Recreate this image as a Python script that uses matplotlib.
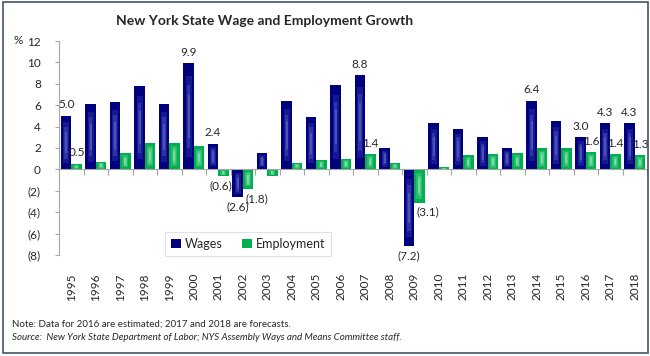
import numpy as np
import matplotlib
matplotlib.use("Agg")
import matplotlib.pyplot as plt
from matplotlib.patches import Rectangle, Patch
from matplotlib.ticker import FixedLocator

# ---- data -------------------------------------------------------------
years = list(range(1995, 2019))
wages = [5.0, 6.1, 6.3, 7.8, 6.1, 9.9, 2.4, -2.6, 1.5, 6.4, 4.9, 7.9,
         8.8, 2.0, -7.2, 4.3, 3.8, 3.0, 2.0, 6.4, 4.5, 3.0, 4.3, 4.3]
employment = [0.5, 0.7, 1.5, 2.5, 2.5, 2.2, -0.6, -1.8, -0.6, 0.6, 0.9, 1.0,
              1.4, 0.6, -3.1, 0.2, 1.3, 1.4, 1.5, 2.0, 2.0, 1.6, 1.4, 1.3]
wage_label_years = [1995, 2000, 2001, 2002, 2007, 2009, 2014, 2016, 2017, 2018]
emp_label_years = [1995, 2001, 2002, 2007, 2009, 2016, 2017, 2018]
y_ticks = [-8, -6, -4, -2, 0, 2, 4, 6, 8, 10, 12]

title = "New York State Wage and Employment Growth"
note = "Note: Data for 2016 are estimated; 2017 and 2018 are forecasts."
source = ("Source:  New York State Department of Labor; "
          "NYS Assembly Ways and Means Committee staff.")

# ---- style --------------------------------------------------------------
plt.rcParams["font.family"] = ["Lato", "DejaVu Sans"]
TEXT = "#262626"
GRID = "#a6a6a6"
WAGE_C = "#00007f"
WAGE_HI = "#8a9ae6"
EMP_C = "#00b050"
EMP_HI = "#e6fff0"
BAR_W = 0.43
OFFSET = 0.21


def fmt_value(v):
    return f"({abs(v):.1f})" if v < 0 else f"{v:.1f}"


def fmt_tick(t):
    return f"({abs(t):d})" if t < 0 else f"{t:d}"


fig = plt.figure(figsize=(6.5, 3.56), dpi=100)
ax = fig.add_axes([59 / 650, 1 - 255 / 356, (647 - 59) / 650, (255 - 41) / 356])

x = np.arange(len(years))


def shaded_bars(xpos, values, base, hi):
    """Solid bars with a soft, lighter streak down the middle of each."""
    vals = np.asarray(values, dtype=float)
    ax.bar(xpos, vals, width=BAR_W, color=base, zorder=2, linewidth=0)
    # layered translucent inner strips build up a glow toward the centre
    for wf, lo, hi_f, a in [(0.55, 0.12, 0.88, 0.16),
                            (0.35, 0.20, 0.80, 0.22),
                            (0.18, 0.30, 0.70, 0.30)]:
        ax.bar(xpos, vals * (hi_f - lo), bottom=vals * lo,
               width=BAR_W * wf, color=hi, alpha=a, zorder=2.2,
               linewidth=0)


shaded_bars(x - OFFSET, wages, WAGE_C, WAGE_HI)
shaded_bars(x + OFFSET, employment, EMP_C, EMP_HI)

ax.set_xlim(-0.5, len(years) - 0.5)
ax.set_ylim(-8, 12)

# value labels (a few nudged sideways to clear neighbouring bars)
label_shift = {("emp", 2001): -0.12, ("emp", 2002): 0.37,
               ("emp", 2009): 0.33}


def put_labels(xpos, values, which, key):
    for xi, yr, val in zip(xpos, years, values):
        if yr not in which:
            continue
        dx = label_shift.get((key, yr), 0.0)
        if val >= 0:
            ax.annotate(fmt_value(val), (xi + dx, val), xytext=(0, 4),
                        textcoords="offset points", ha="center", va="bottom",
                        fontsize=8.5, color=TEXT, zorder=4)
        else:
            ax.annotate(fmt_value(val), (xi + dx, val), xytext=(0, -3),
                        textcoords="offset points", ha="center", va="top",
                        fontsize=8.5, color=TEXT, zorder=4)


put_labels(x - OFFSET, wages, wage_label_years, "wage")
put_labels(x + OFFSET, employment, emp_label_years, "emp")

# axes styling: y axis on the left, category axis along zero
for s in ("top", "right"):
    ax.spines[s].set_visible(False)
ax.spines["left"].set_color(GRID)
ax.spines["left"].set_linewidth(0.8)
ax.spines["bottom"].set_position(("data", 0))
ax.spines["bottom"].set_color(GRID)
ax.spines["bottom"].set_linewidth(0.8)
ax.spines["bottom"].set_zorder(3)

ax.set_yticks(y_ticks)
ax.set_yticklabels([fmt_tick(t) for t in y_ticks])
ax.tick_params(axis="y", length=3, width=0.8, color=GRID, pad=10,
               labelsize=8.5, labelcolor=TEXT)

ax.xaxis.set_major_locator(FixedLocator(np.arange(-0.5, len(years), 1.0)))
ax.tick_params(axis="x", length=4, width=0.8, color=GRID, labelbottom=False)

sec = ax.secondary_xaxis("bottom")
sec.spines["bottom"].set_visible(False)
sec.set_xticks(x)
sec.set_xticklabels([str(y) for y in years], rotation=90)
sec.tick_params(length=0, pad=13, labelsize=8.5, labelcolor=TEXT)

# legend
handles = [Patch(facecolor=WAGE_C, edgecolor="none", label="Wages"),
           Patch(facecolor=EMP_C, edgecolor="none", label="Employment")]
leg = fig.legend(handles=handles, loc="center",
                 bbox_to_anchor=(248 / 650, 1 - 244 / 356), ncol=2,
                 frameon=True, fontsize=9, handlelength=0.8,
                 handleheight=0.8, handletextpad=0.3, columnspacing=1.6,
                 borderpad=0.45, fancybox=False)
leg.get_frame().set_edgecolor("#d5dce8")
leg.get_frame().set_linewidth(0.8)
for t in leg.get_texts():
    t.set_color(TEXT)

# titles and notes
fig.text(265 / 650, 1 - 21 / 356, title, ha="center", va="center",
         fontsize=10, fontweight="bold", color=TEXT)
fig.text(13 / 650, 1 - 41 / 356, "%", ha="left", va="center",
         fontsize=8.5, color=TEXT)
fig.text(12 / 650, 1 - 324 / 356, note, ha="left", va="center",
         fontsize=7, color=TEXT)
fig.text(12 / 650, 1 - 338 / 356, source, ha="left", va="center",
         fontsize=7, color=TEXT, style="italic")

# outer frame
fig.patches.append(Rectangle((3 / 650, 3 / 356), 645 / 650, 351 / 356,
                             transform=fig.transFigure, fill=False,
                             edgecolor="#44546a", linewidth=1.2))

fig.savefig("out.png", dpi=100)
